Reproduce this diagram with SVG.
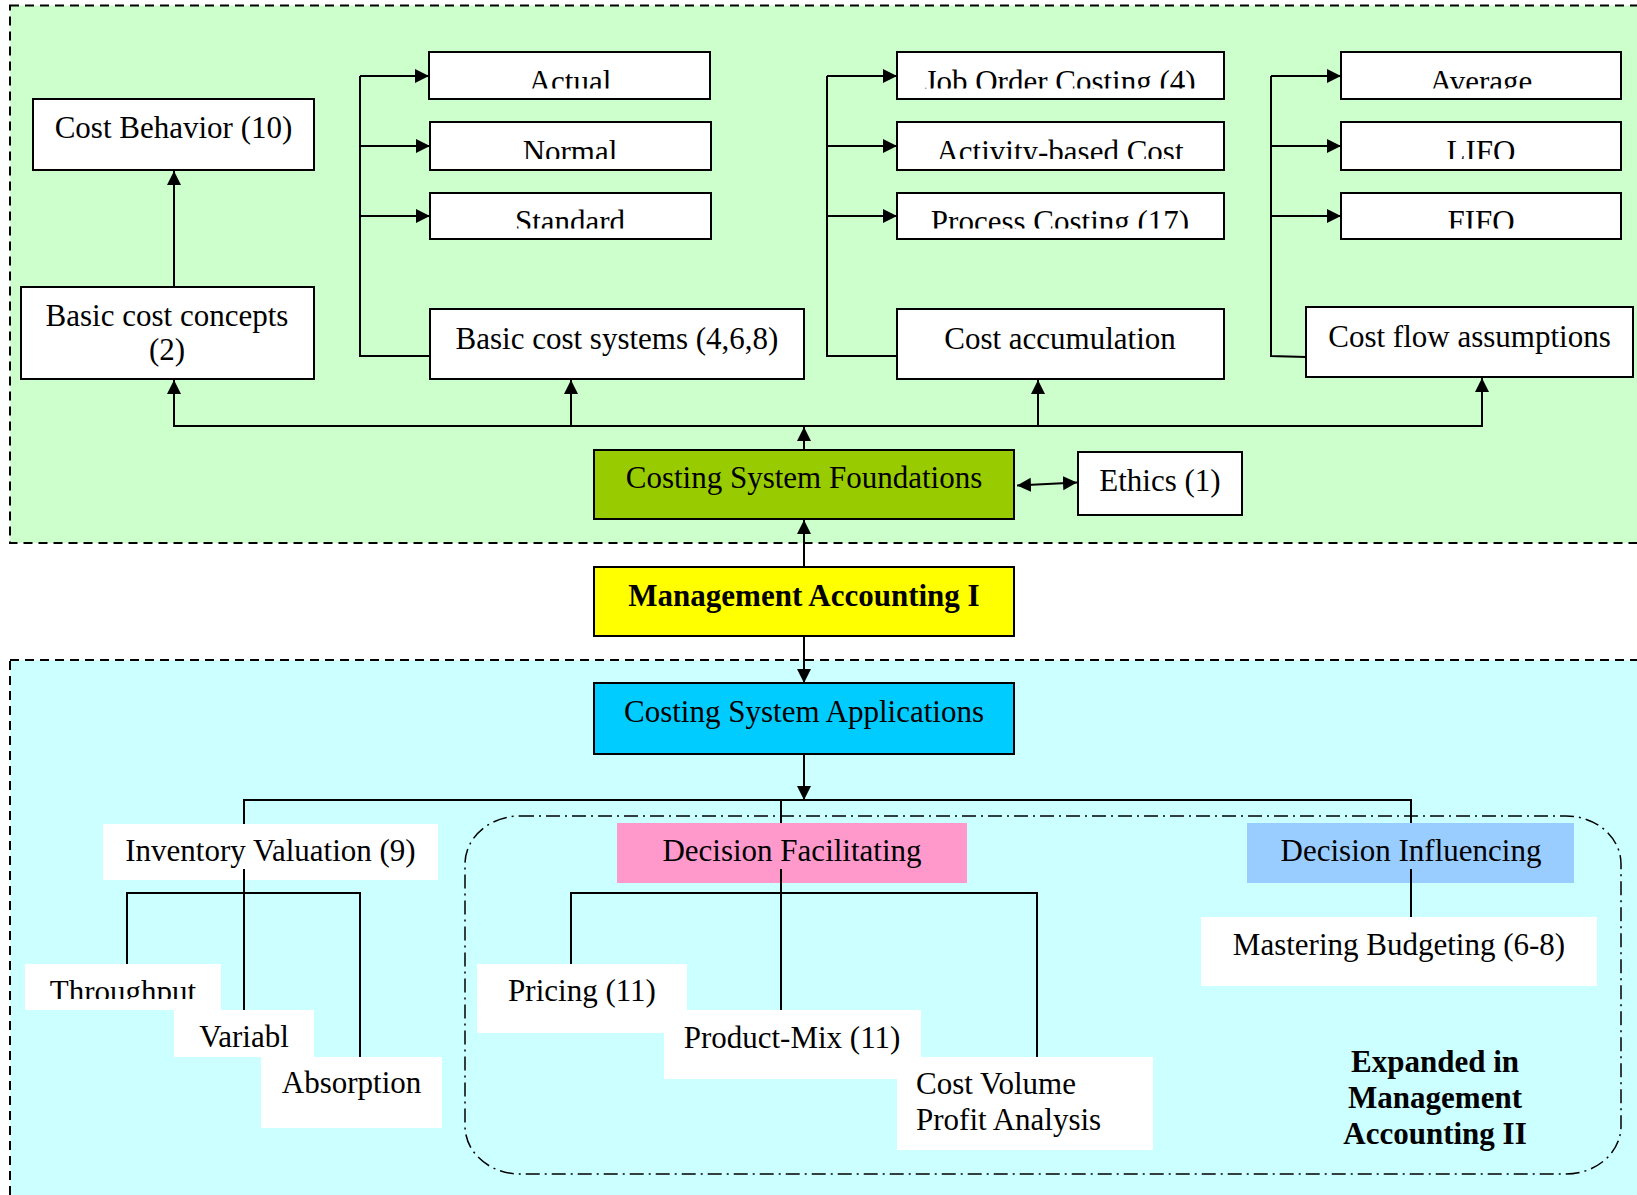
<svg xmlns="http://www.w3.org/2000/svg" width="1637" height="1195" viewBox="0 0 1637 1195">
<style>
  text { font-family: "Liberation Serif", "Times New Roman", serif; font-size: 31px; fill: #000; }
  .c { text-anchor: middle; }
  .b { font-weight: bold; }
  .box { stroke: #000; stroke-width: 2; }
  .w { fill: #fff; }
  .plain { fill: #fff; stroke: none; }
  .ln { fill: none; stroke: #000; stroke-width: 2; }
  .ar { fill: none; stroke: #000; stroke-width: 2; marker-end: url(#ah); }
</style>
<defs>
  <marker id="ah" markerUnits="userSpaceOnUse" markerWidth="15" markerHeight="15" refX="14" refY="7" orient="auto-start-reverse">
    <path d="M0,0 L14,7 L0,14 z" fill="#000"/>
  </marker>
  <clipPath id="row1" clipPathUnits="userSpaceOnUse"><rect x="0" y="52" width="1637" height="36.5"/></clipPath>
  <clipPath id="row2" clipPathUnits="userSpaceOnUse"><rect x="0" y="122" width="1637" height="37"/></clipPath>
  <clipPath id="row3" clipPathUnits="userSpaceOnUse"><rect x="0" y="193" width="1637" height="35.5"/></clipPath>
  <clipPath id="rowT" clipPathUnits="userSpaceOnUse"><rect x="0" y="964" width="1637" height="35"/></clipPath>
</defs>
<rect x="0" y="0" width="1637" height="1195" fill="#fff"/>

<g id="regions">
  <rect x="10" y="5.5" width="1640" height="537.5" fill="#CCFFCC" stroke="#000" stroke-width="2" stroke-dasharray="9,6"/>
  <rect x="10" y="660" width="1640" height="600" fill="#CCFFFF" stroke="#000" stroke-width="2" stroke-dasharray="9,6"/>
  <rect x="465" y="816" width="1156" height="358" rx="55" ry="48" fill="none" stroke="#000" stroke-width="1.5" stroke-dasharray="14,5,2,5"/>
</g>

<g id="nodes">
  <g id="cost-behavior"><rect class="box w" x="33" y="99" width="281" height="71"/><text class="c" x="173.5" y="138">Cost Behavior (10)</text></g>
  <g id="basic-cost-concepts"><rect class="box w" x="21" y="287" width="293" height="92"/><text class="c" x="167" y="326">Basic cost concepts</text><text class="c" x="167" y="360">(2)</text></g>

  <g id="actual"><rect class="box w" x="429" y="52" width="281" height="47"/><text class="c" x="570" y="92" clip-path="url(#row1)">Actual</text></g>
  <g id="normal"><rect class="box w" x="430" y="122" width="281" height="48"/><text class="c" x="570" y="162" clip-path="url(#row2)">Normal</text></g>
  <g id="standard"><rect class="box w" x="430" y="193" width="281" height="46"/><text class="c" x="570" y="232" clip-path="url(#row3)">Standard</text></g>
  <g id="basic-cost-systems"><rect class="box w" x="430" y="309" width="374" height="70"/><text class="c" x="617" y="349">Basic cost systems (4,6,8)</text></g>

  <g id="job-order"><rect class="box w" x="897" y="52" width="327" height="47"/><text class="c" x="1060" y="92" clip-path="url(#row1)">Job Order Costing (4)</text></g>
  <g id="activity-based"><rect class="box w" x="897" y="122" width="327" height="48"/><text class="c" x="1060" y="162" clip-path="url(#row2)">Activity-based Cost</text></g>
  <g id="process-costing"><rect class="box w" x="897" y="193" width="327" height="46"/><text class="c" x="1060" y="232" clip-path="url(#row3)">Process Costing (17)</text></g>
  <g id="cost-accumulation"><rect class="box w" x="897" y="309" width="327" height="70"/><text class="c" x="1060" y="349">Cost accumulation</text></g>

  <g id="average"><rect class="box w" x="1341" y="52" width="280" height="47"/><text class="c" x="1481" y="92" clip-path="url(#row1)">Average</text></g>
  <g id="lifo"><rect class="box w" x="1341" y="122" width="280" height="48"/><text class="c" x="1481" y="162" clip-path="url(#row2)">LIFO</text></g>
  <g id="fifo"><rect class="box w" x="1341" y="193" width="280" height="46"/><text class="c" x="1481" y="232" clip-path="url(#row3)">FIFO</text></g>
  <g id="cost-flow"><rect class="box w" x="1306" y="307" width="327" height="70"/><text class="c" x="1469.5" y="347">Cost flow assumptions</text></g>

  <g id="csf"><rect class="box" fill="#99CC00" x="594" y="450" width="420" height="69"/><text class="c" x="804" y="488">Costing System Foundations</text></g>
  <g id="ethics"><rect class="box w" x="1078" y="452" width="164" height="63"/><text class="c" x="1160" y="491">Ethics (1)</text></g>

  <g id="ma1"><rect class="box" fill="#FFFF00" x="594" y="567" width="420" height="69"/><text class="c b" x="804" y="606">Management Accounting I</text></g>
  <g id="csa"><rect class="box" fill="#00CCFF" x="594" y="683" width="420" height="71"/><text class="c" x="804" y="722">Costing System Applications</text></g>

  <g id="inventory-valuation"><rect class="plain" x="103" y="824" width="335" height="56"/><text class="c" x="270.5" y="861">Inventory Valuation (9)</text></g>
  <g id="throughput"><rect class="plain" x="25" y="964" width="196" height="46"/><text class="c" x="123" y="1001.5" clip-path="url(#rowT)">Throughput</text></g>
  <g id="variabl"><rect class="plain" x="174" y="1010" width="140" height="47"/><text class="c" x="244" y="1047">Variabl</text></g>
  <g id="absorption"><rect class="plain" x="261" y="1057" width="181" height="71"/><text class="c" x="351.5" y="1093">Absorption</text></g>

  <g id="decision-facilitating"><rect fill="#FF99CC" x="617" y="823" width="350" height="60"/><text class="c" x="792" y="861">Decision Facilitating</text></g>
  <g id="pricing"><rect class="plain" x="477" y="964" width="210" height="69"/><text class="c" x="582" y="1001">Pricing (11)</text></g>
  <g id="product-mix"><rect class="plain" x="664" y="1010" width="257" height="69"/><text class="c" x="792" y="1048">Product-Mix (11)</text></g>
  <g id="cvp"><rect class="plain" x="897" y="1057" width="256" height="93"/><text x="916" y="1094">Cost Volume</text><text x="916" y="1130">Profit Analysis</text></g>

  <g id="decision-influencing"><rect fill="#99CCFF" x="1247" y="823" width="327" height="60"/><text class="c" x="1411" y="861">Decision Influencing</text></g>
  <g id="mastering-budgeting"><rect class="plain" x="1201" y="917" width="396" height="69"/><text class="c" x="1399" y="955">Mastering Budgeting (6-8)</text></g>

  <g id="expanded-note"><text class="c b" x="1435" y="1072">Expanded in</text><text class="c b" x="1435" y="1108">Management</text><text class="c b" x="1435" y="1144">Accounting II</text></g>
</g>

<g id="connectors">
  <line class="ar" x1="174" y1="287" x2="174" y2="171"/>
  <polyline class="ln" points="430,356 360,356 360,76"/>
  <line class="ar" x1="360" y1="76" x2="429" y2="76"/>
  <line class="ar" x1="360" y1="146" x2="430" y2="146"/>
  <line class="ar" x1="360" y1="216" x2="430" y2="216"/>
  <polyline class="ln" points="897,356 827,356 827,76"/>
  <line class="ar" x1="827" y1="76" x2="897" y2="76"/>
  <line class="ar" x1="827" y1="146" x2="897" y2="146"/>
  <line class="ar" x1="827" y1="216" x2="897" y2="216"/>
  <polyline class="ln" points="1306,357 1271,356 1271,76"/>
  <line class="ar" x1="1271" y1="76" x2="1341" y2="76"/>
  <line class="ar" x1="1271" y1="146" x2="1341" y2="146"/>
  <line class="ar" x1="1271" y1="216" x2="1341" y2="216"/>

  <line class="ln" x1="173" y1="426" x2="1483" y2="426"/>
  <line class="ar" x1="174" y1="426" x2="174" y2="380"/>
  <line class="ar" x1="571" y1="426" x2="571" y2="380"/>
  <line class="ar" x1="1038" y1="426" x2="1038" y2="380"/>
  <line class="ar" x1="1482" y1="426" x2="1482" y2="378"/>
  <line class="ar" x1="804" y1="450" x2="804" y2="427"/>
  <line class="ar" x1="804" y1="567" x2="804" y2="520"/>
  <line class="ar" x1="1017" y1="485.5" x2="1077" y2="482.5" style="marker-start:url(#ah)"/>
  <line class="ar" x1="804" y1="637" x2="804" y2="683"/>
  <line class="ar" x1="804" y1="754" x2="804" y2="800"/>

  <line class="ln" x1="243" y1="800" x2="1412" y2="800"/>
  <line class="ln" x1="244" y1="800" x2="244" y2="824"/>
  <line class="ln" x1="244" y1="869" x2="244" y2="1010"/>
  <polyline class="ln" points="127,964 127,893 360,893 360,1057"/>
  <line class="ln" x1="781" y1="800" x2="781" y2="823"/>
  <line class="ln" x1="781" y1="869" x2="781" y2="1010"/>
  <polyline class="ln" points="571,964 571,893 1037,893 1037,1057"/>
  <line class="ln" x1="1411" y1="800" x2="1411" y2="823"/>
  <line class="ln" x1="1411" y1="869" x2="1411" y2="917"/>
</g>
</svg>
